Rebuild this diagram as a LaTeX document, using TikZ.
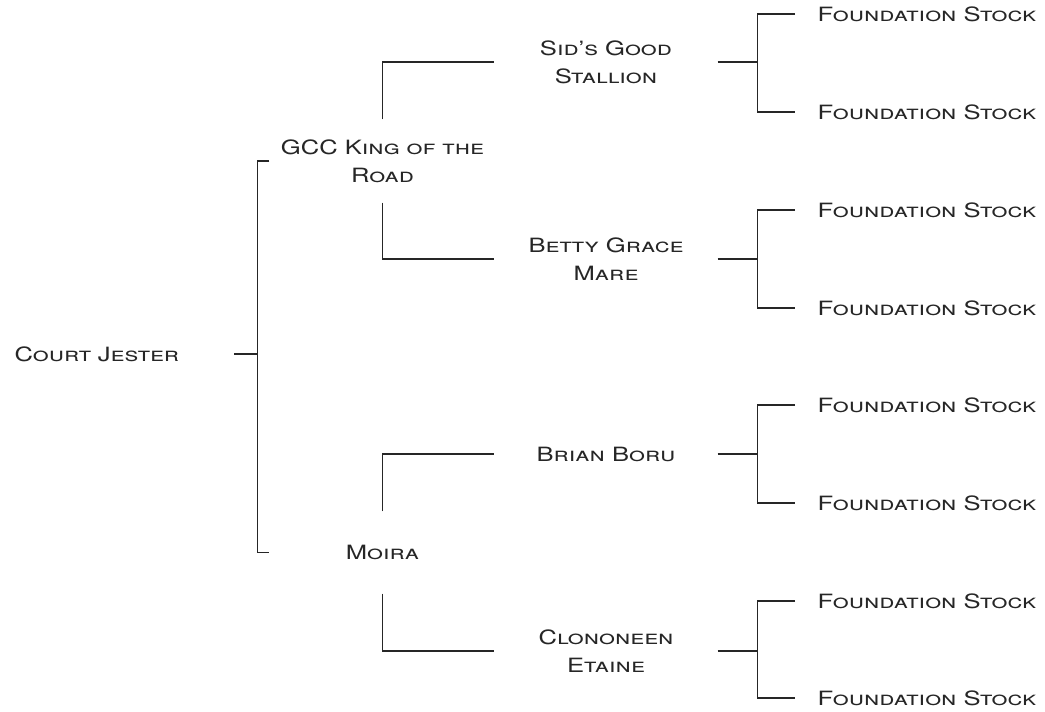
\documentclass[tikz,border=0pt]{standalone}
\usepackage{fontspec}
\setmainfont{TeX Gyre Heros}[FakeStretch=1.3]
\tikzset{cheval/.style = {inner sep=0, minimum width=#1, align=center},
         cheval/.default=4.44cm,
         souche/.style = {anchor=west, inner xsep=0.44cm, inner ysep=0}
        }

\begin{document}
\begin{tikzpicture}[x=0.02cm, y=-0.02cm, line width=0.75pt, color=black!85]
\tikzstyle{every node}=[font=\fontsize{11.2}{16}\selectfont\scshape, text=black!85]
\useasboundingbox (0,0) rectangle (1045,712);
\node[anchor=west, inner sep=0, text width=4.38cm, align=left] at (14,354) (cj) {Court Jester};
\node[cheval=4.5cm, minimum height=1.64cm] at (382.5,161) (gcc) {GCC King of the\\Road};
\node[cheval=4.5cm, minimum height=1.62cm] at (382.5,552.5) (moira) {Moira};
\node[cheval] at (606,62) (sid) {Sid's Good\\Stallion};
\node[cheval] at (606,259) (betty) {Betty Grace\\Mare};
\node[cheval] at (606,454) (brian) {Brian Boru};
\node[cheval] at (606,651) (clon) {Clononeen\\Etaine};
\node[souche] at (795,14) (f1) {Foundation Stock};
\node[souche] at (795,112) (f2) {Foundation Stock};
\node[souche] at (795,210) (f3) {Foundation Stock};
\node[souche] at (795,308) (f4) {Foundation Stock};
\node[souche] at (795,405) (f5) {Foundation Stock};
\node[souche] at (795,503) (f6) {Foundation Stock};
\node[souche] at (795,601) (f7) {Foundation Stock};
\node[souche] at (795,698) (f8) {Foundation Stock};
\draw (cj.east) -- ++(23,0) coordinate (cjs);
\draw (gcc.west) -| (cjs) |- (moira.west);
\draw (gcc.north) |- (sid.west);
\draw (gcc.south) |- (betty.west);
\draw (moira.north) |- (brian.west);
\draw (moira.south) |- (clon.west);
\draw (sid.east) -- ++(40,0) coordinate (sids);
\draw (f1.west) -| (sids) |- (f2.west);
\draw (betty.east) -- ++(40,0) coordinate (bettys);
\draw (f3.west) -| (bettys) |- (f4.west);
\draw (brian.east) -- ++(40,0) coordinate (brians);
\draw (f5.west) -| (brians) |- (f6.west);
\draw (clon.east) -- ++(40,0) coordinate (clons);
\draw (f7.west) -| (clons) |- (f8.west);
\end{tikzpicture}
\end{document}
